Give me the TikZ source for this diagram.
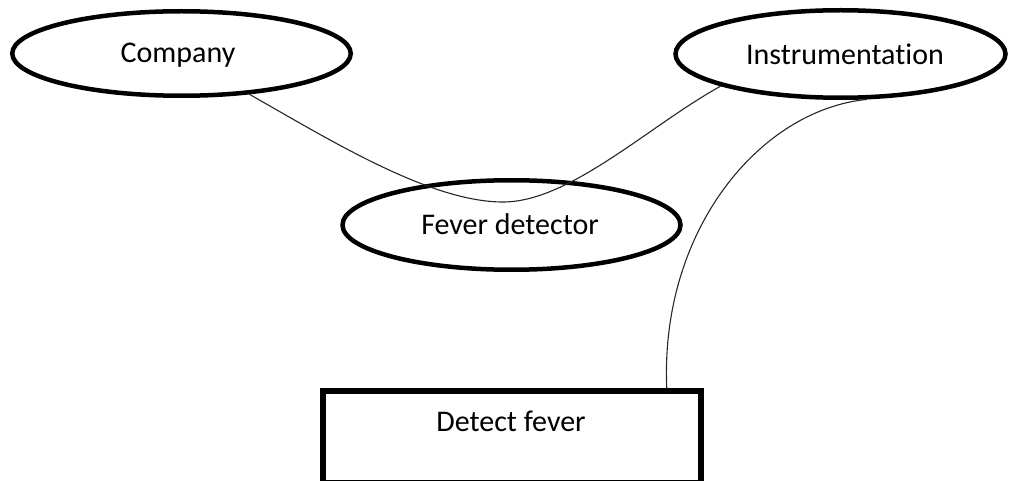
\documentclass[tikz,border=0pt]{standalone}
\usepackage{fontspec}
\setmainfont{Carlito}[Ligatures=NoCommon]
\usetikzlibrary{shapes.geometric,calc}
\begin{document}
\begin{tikzpicture}[x=1pt,y=-1pt,
  every node/.style={font=\fontsize{30}{36}\selectfont},
  oval/.style={draw=black, line width=4.5pt, ellipse, inner sep=0pt},
  boxshape/.style={draw=black, line width=6pt, rectangle, inner sep=0pt},
  link/.style={draw=black!85, line width=1.1pt},
  lbl/.style={inner sep=0pt}]
\useasboundingbox (0,0) rectangle (1009,481);
\node[oval, minimum width=338.5pt, minimum height=84.5pt] (company) at (181.5,53.5) {};
\node[lbl] (companytxt) at (178,55) {Company};
\node[oval, minimum width=330pt, minimum height=87.5pt] (instr) at (840.5,54) {};
\node[lbl] (instrtxt) at (845,54) {Instrumentation};
\node[oval, minimum width=338pt, minimum height=89.5pt] (fever) at (511.5,225) {};
\node[lbl] (fevertxt) at (510,224) {Fever detector};
\node[boxshape, minimum width=378.5pt, minimum height=92pt] (box) at (511.75,437) {};
\node[lbl] (boxtxt) at (511,421) {Detect fever};
\coordinate (dip) at (503,202);
\draw[link] (company.-31) .. controls (330,140) and (430,202) .. (dip)
  .. controls (570,202) and (650,125) .. (instr.-165);
\draw[link] (instr.-60) .. controls (760,110) and (660,230) .. ([xshift=155pt]box.north);
\end{tikzpicture}
\end{document}
